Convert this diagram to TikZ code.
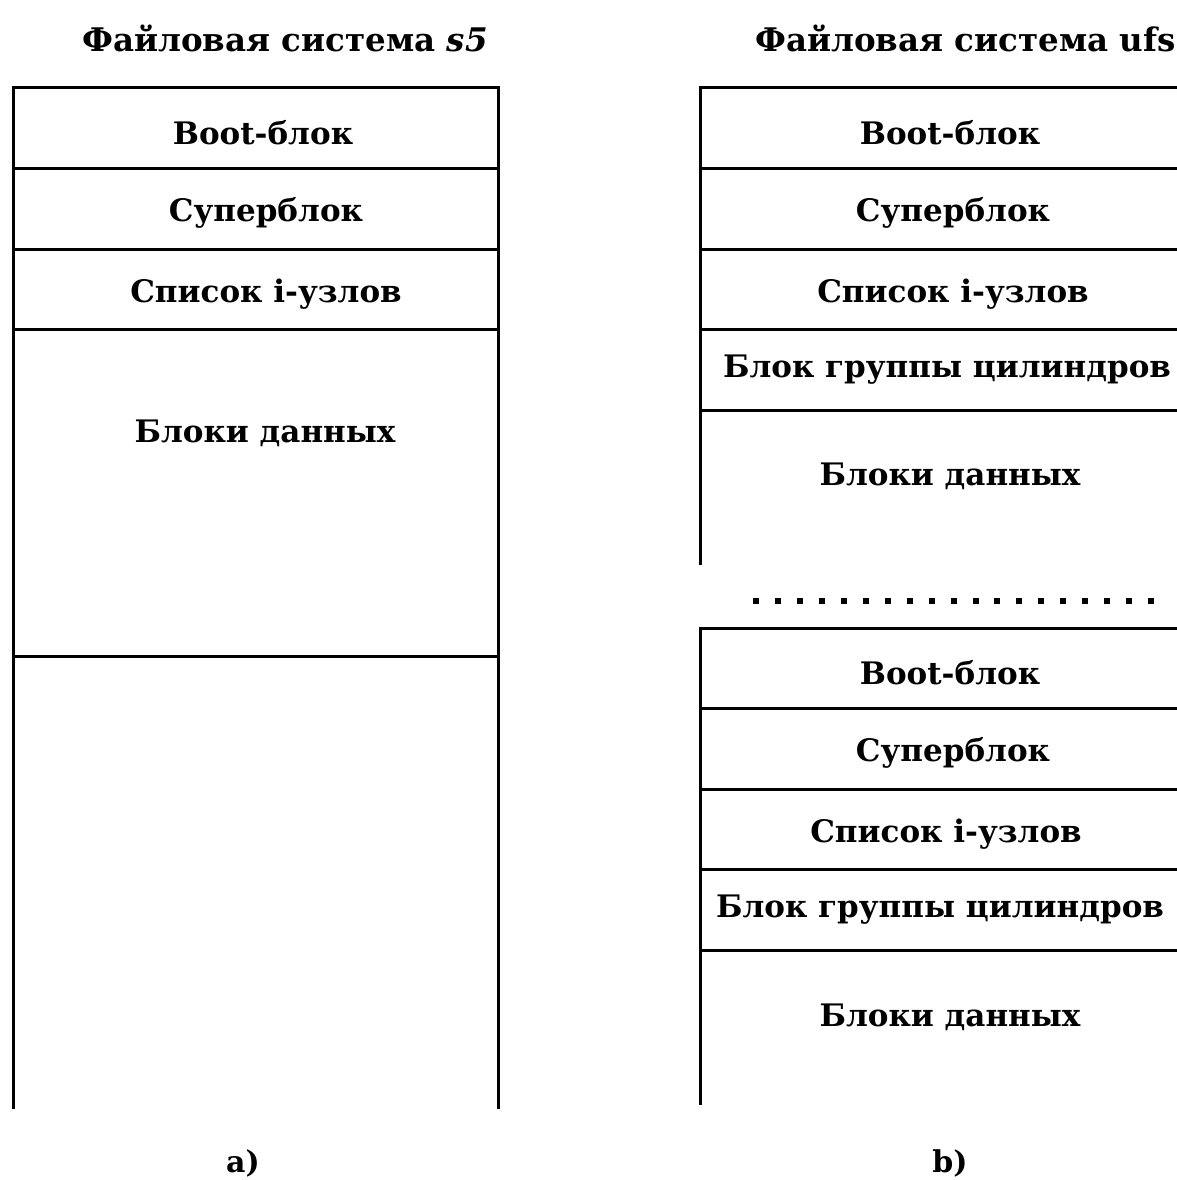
\documentclass[tikz,border=0pt]{standalone}
\usepackage{fontspec}
\setmainfont{DejaVu Serif}
\begin{document}
\begin{tikzpicture}[x=1pt,y=-1pt,
  rule/.style={line width=3pt,line cap=rect},
  side/.style={line width=3pt},
  cell/.style={font=\fontsize{31}{34}\selectfont\bfseries,inner sep=0pt},
  head/.style={font=\fontsize{32.5}{35}\selectfont\bfseries,inner sep=0pt},
  tag/.style={font=\fontsize{30}{33}\selectfont\bfseries,inner sep=0pt}]
\useasboundingbox[fill=white] (0,0) rectangle (1177,1180);

% --- s5 column ---
\node[head] (t5) at (285,38) {Файловая система \textit{s5}};
\draw[side] (13,86.5) -- (13,1109);
\draw[side] (498,86.5) -- (498,1109);
\foreach \y in {88,168,249,329,656} \draw[rule] (13,\y) -- (498,\y);
\node[cell] (a1) at (263,133) {Boot-блок};
\node[cell] (a2) at (266,213) {Суперблок};
\node[cell] (a3) at (266,294) {Список i-узлов};
\node[cell] (a4) at (265,433) {Блоки данных};
\node[tag] (la) at (243,1163) {a)};

% --- ufs column ---
\node[head,anchor=west] (tu) at (755,38) {Файловая система ufs};
\draw[side] (700,86.5) -- (700,565);
\foreach \y in {88,168,249,329,410} \draw[rule] (700,\y) -- (1180,\y);
\node[cell] (b1) at (950,133) {Boot-блок};
\node[cell] (b2) at (953,213) {Суперблок};
\node[cell] (b3) at (953,294) {Список i-узлов};
\node[cell] (b4) at (947,370) {Блок группы цилиндров};
\node[cell] (b5) at (950,476) {Блоки данных};

\foreach \i in {0,...,18}
  \fill (756+\i*21.95-3,598) rectangle ++(6,6);

\draw[side] (700,626.5) -- (700,1105);
\foreach \y in {628,708,789,869,950} \draw[rule] (700,\y) -- (1180,\y);
\node[cell] (c1) at (950,673) {Boot-блок};
\node[cell] (c2) at (953,753) {Суперблок};
\node[cell] (c3) at (946,834) {Список i-узлов};
\node[cell] (c4) at (940,910) {Блок группы цилиндров};
\node[cell] (c5) at (950,1017) {Блоки данных};
\node[tag] (lb) at (950,1163) {b)};
\end{tikzpicture}
\end{document}
